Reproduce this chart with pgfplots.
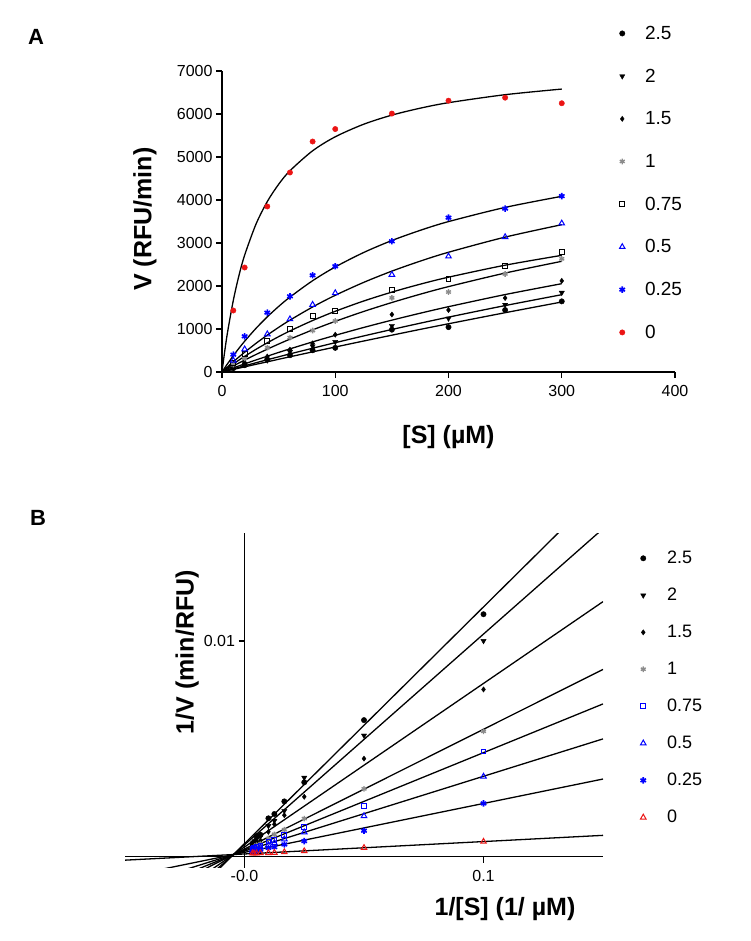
\documentclass[border=0pt]{standalone}
\usepackage{pgfplots}
\pgfplotsset{compat=1.18}
\usepackage{pgfplotstable}
\usepackage{fontspec}
\setmainfont{Liberation Sans}

\definecolor{mblue}{RGB}{0,0,255}
\definecolor{mred}{RGB}{235,20,20}
\definecolor{mgray}{RGB}{140,140,140}

% panel A: V against [S]
\pgfplotstableread{
S    v25   v2    v15   v1    v075  v05   v025  v0
10   89    100   129   172   205   269   405   1430
20   158   178   220   318   425   530   830   2430
40   290   273   360   566   717   880   1380  3850
60   390   470   520   800   1000  1230  1760  4640
80   505   600   665   965   1305  1566  2250  5360
100  562   700   868   1186  1419  1837  2460  5650
150  984   1075  1337  1725  1907  2264  3040  6010
200  1043  1245  1442  1860  2167  2690  3590  6310
250  1440  1565  1721  2280  2473  3140  3800  6380
300  1643  1845  2120  2632  2800  3457  4090  6250
}\dataA

% fitted curves of panel A
\pgfplotstableread{
S    f25   f2    f15   f1    f075  f05   f025  f0
0    0     0     0     0     0     0     0     0
2.5  15    18    24    36    49    61    100   503
5    30    37    48    72    96    122   196   941
10   60    73    96    142   189   239   380   1668
15   90    109   143   210   278   351   553   2247
20   120   144   189   277   364   460   716   2718
30   179   215   280   407   527   666   1015  3438
40   237   285   368   531   679   858   1283  3964
50   296   353   455   650   822   1038  1524  4365
60   354   421   538   764   955   1206  1742  4680
80   468   553   700   979   1197  1512  2123  5144
100  581   682   853   1178  1412  1784  2443  5470
125  720   838   1035  1407  1650  2083  2778  5761
150  856   989   1206  1616  1858  2346  3058  5974
175  991   1135  1367  1809  2042  2578  3294  6135
200  1122  1276  1519  1986  2205  2785  3498  6263
250  1379  1545  1801  2301  2484  3137  3828  6449
300  1628  1798  2054  2574  2713  3426  4086  6580
}\fitA

% panel B: 1/V against 1/[S]
\pgfplotstableread{
x         b25       b2        b15       b1        b075      b05       b025      b0
0.1       0.011236  0.0100    0.007752  0.005814  0.004878  0.003717  0.002469  0.000699
0.05      0.006329  0.005618  0.004545  0.003145  0.002353  0.001887  0.001205  0.000412
0.025     0.003448  0.003663  0.002778  0.001767  0.001395  0.001136  0.000725  0.000260
0.016667  0.002564  0.002128  0.001923  0.00125   0.001000  0.000813  0.000568  0.000216
0.0125    0.00198   0.001667  0.001504  0.001036  0.000766  0.000639  0.000444  0.000187
0.01      0.001779  0.001429  0.001152  0.000843  0.000705  0.000544  0.000407  0.000177
0.006667  0.001016  0.00093   0.000748  0.00058   0.000524  0.000442  0.000329  0.000166
0.005     0.000959  0.000803  0.000693  0.000538  0.000461  0.000372  0.000279  0.000158
0.004     0.000694  0.000639  0.000581  0.000439  0.000404  0.000318  0.000263  0.000157
0.003333  0.000609  0.000542  0.000472  0.00038   0.000357  0.000289  0.000244  0.00016
}\dataB

% regression lines of panel B (end points)
\pgfplotstableread{
x      l25       l2        l15       l1        l075      l05       l025      l0
-0.05  -0.00488  -0.00433  -0.00334  -0.00242  -0.00195  -0.00147  -0.00093  -0.00016
0.15   0.01706   0.01520   0.01182   0.00868   0.00708   0.00546   0.0036    0.00099
}\fitB

\pgfplotsset{
  dotleg/.style={legend image code/.code={\draw[##1] plot coordinates {(0pt,0pt)};}},
  m25/.style={only marks, dotleg, mark=*, mark size=2.7pt, black},
  m2/.style={only marks, dotleg, mark=triangle*, mark size=3pt, black, mark options={rotate=180}},
  m15/.style={only marks, dotleg, mark=diamond*, mark size=2.6pt, black},
  m1/.style={only marks, dotleg, mark=asterisk, mark size=2.8pt, mgray, mark options={line width=1.4pt}},
  m075/.style={only marks, dotleg, mark=square, mark size=2.4pt, mark options={line width=1pt}},
  m05/.style={only marks, dotleg, mark=triangle, mark size=3.2pt, mblue, mark options={line width=1pt}},
  m025/.style={only marks, dotleg, mark=asterisk, mark size=3.2pt, mblue, mark options={line width=1.6pt}},
  fit/.style={no marks, black, line width=1.3pt, forget plot},
  panel/.style={
    scale only axis,
    tick align=outside,
    major tick length=6pt,
    axis line style={line width=1.4pt},
    every tick/.style={line width=1.4pt, black},
    tick label style={font=\fontsize{16}{16}\selectfont},
    x tick label style={yshift=-4pt},
    /pgf/number format/assume math mode=true,
    /pgf/number format/1000 sep={},
    scaled ticks=false,
    legend cell align=left,
  },
}

\begin{document}
\begin{tikzpicture}
\path[use as bounding box] (0,0) rectangle (750pt,-941pt);
\node[font=\bfseries\fontsize{22}{22}\selectfont] at (36pt,-37pt) {A};
\node[font=\bfseries\fontsize{22}{22}\selectfont] at (38pt,-518pt) {B};

\begin{axis}[panel,
  at={(222pt,-372pt)}, anchor=south west,
  width=453pt, height=301pt,
  xmin=0, xmax=400, ymin=0, ymax=7000,
  axis x line*=bottom, axis y line*=left,
  xtick={0,100,200,300,400}, ytick={0,1000,...,7000},
  every axis x label/.style={at={(axis description cs:0.5,-0.216)}, anchor=center,
    font=\bfseries\fontsize{25}{25}\selectfont},
  every axis y label/.style={at={(axis description cs:-0.17,0.508)}, anchor=center, rotate=90,
    font=\bfseries\fontsize{25}{25}\selectfont},
  xlabel={[S] (µM)}, ylabel={V (RFU/min)},
  clip mode=individual,
  legend style={at={(axis description cs:0.877,1.150)}, anchor=north west,
    draw=none, fill=none, inner sep=0pt, row sep=28pt,
    font=\fontsize{19}{19}\selectfont, nodes={inner sep=0pt},
    /tikz/every odd column/.append style={column sep=20pt}},
]
\addplot[fit, smooth] table[x=S,y=f25] {\fitA};
\addplot[fit, smooth] table[x=S,y=f2] {\fitA};
\addplot[fit, smooth] table[x=S,y=f15] {\fitA};
\addplot[fit, smooth] table[x=S,y=f1] {\fitA};
\addplot[fit, smooth] table[x=S,y=f075] {\fitA};
\addplot[fit, smooth] table[x=S,y=f05] {\fitA};
\addplot[fit, smooth] table[x=S,y=f025] {\fitA};
\addplot[fit, smooth] table[x=S,y=f0] {\fitA};

\addplot[m25] table[x=S,y=v25] {\dataA}; \addlegendentry{2.5}
\addplot[m2] table[x=S,y=v2] {\dataA}; \addlegendentry{2}
\addplot[m15] table[x=S,y=v15] {\dataA}; \addlegendentry{1.5}
\addplot[m1] table[x=S,y=v1] {\dataA}; \addlegendentry{1}
\addplot[m075, black] table[x=S,y=v075] {\dataA}; \addlegendentry{0.75}
\addplot[m05] table[x=S,y=v05] {\dataA}; \addlegendentry{0.5}
\addplot[m025] table[x=S,y=v025] {\dataA}; \addlegendentry{0.25}
\addplot[only marks, dotleg, mark=*, mark size=2.7pt, mred] table[x=S,y=v0] {\dataA}; \addlegendentry{0}
\end{axis}

\begin{axis}[panel,
  at={(125pt,-867.5pt)}, anchor=south west,
  width=478pt, height=334.5pt,
  xmin=-0.05, xmax=0.15, ymin=-0.0005, ymax=0.015,
  axis lines*=middle,
  hide obscured x ticks=false,
  xtick={0,0.1}, xticklabels={-0.0,0.1},
  ytick={0.01}, yticklabels={0.01},
  every axis x label/.style={at={(axis description cs:0.795,-0.124)}, anchor=center,
    font=\bfseries\fontsize{25}{25}\selectfont},
  every axis y label/.style={at={(axis description cs:0.13,0.644)}, anchor=center, rotate=90,
    font=\bfseries\fontsize{25}{25}\selectfont},
  xlabel={1/[S] (1/ µM)}, ylabel={1/V (min/RFU)},
  clip mode=individual,
  legend style={at={(axis description cs:1.078,0.946)}, anchor=north west,
    draw=none, fill=none, inner sep=0pt, row sep=23pt,
    font=\fontsize{18}{18}\selectfont, nodes={inner sep=0pt},
    /tikz/every odd column/.append style={column sep=21pt}},
]
\addplot[fit] table[x=x,y=l25] {\fitB};
\addplot[fit] table[x=x,y=l2] {\fitB};
\addplot[fit] table[x=x,y=l15] {\fitB};
\addplot[fit] table[x=x,y=l1] {\fitB};
\addplot[fit] table[x=x,y=l075] {\fitB};
\addplot[fit] table[x=x,y=l05] {\fitB};
\addplot[fit] table[x=x,y=l025] {\fitB};
\addplot[fit] table[x=x,y=l0] {\fitB};

\addplot[m25] table[x=x,y=b25] {\dataB}; \addlegendentry{2.5}
\addplot[m2] table[x=x,y=b2] {\dataB}; \addlegendentry{2}
\addplot[m15] table[x=x,y=b15] {\dataB}; \addlegendentry{1.5}
\addplot[m1] table[x=x,y=b1] {\dataB}; \addlegendentry{1}
\addplot[m075, mblue] table[x=x,y=b075] {\dataB}; \addlegendentry{0.75}
\addplot[m05] table[x=x,y=b05] {\dataB}; \addlegendentry{0.5}
\addplot[m025] table[x=x,y=b025] {\dataB}; \addlegendentry{0.25}
\addplot[only marks, dotleg, mark=triangle, mark size=3.2pt, mred, mark options={line width=1pt}] table[x=x,y=b0] {\dataB}; \addlegendentry{0}
\end{axis}
\end{tikzpicture}
\end{document}
